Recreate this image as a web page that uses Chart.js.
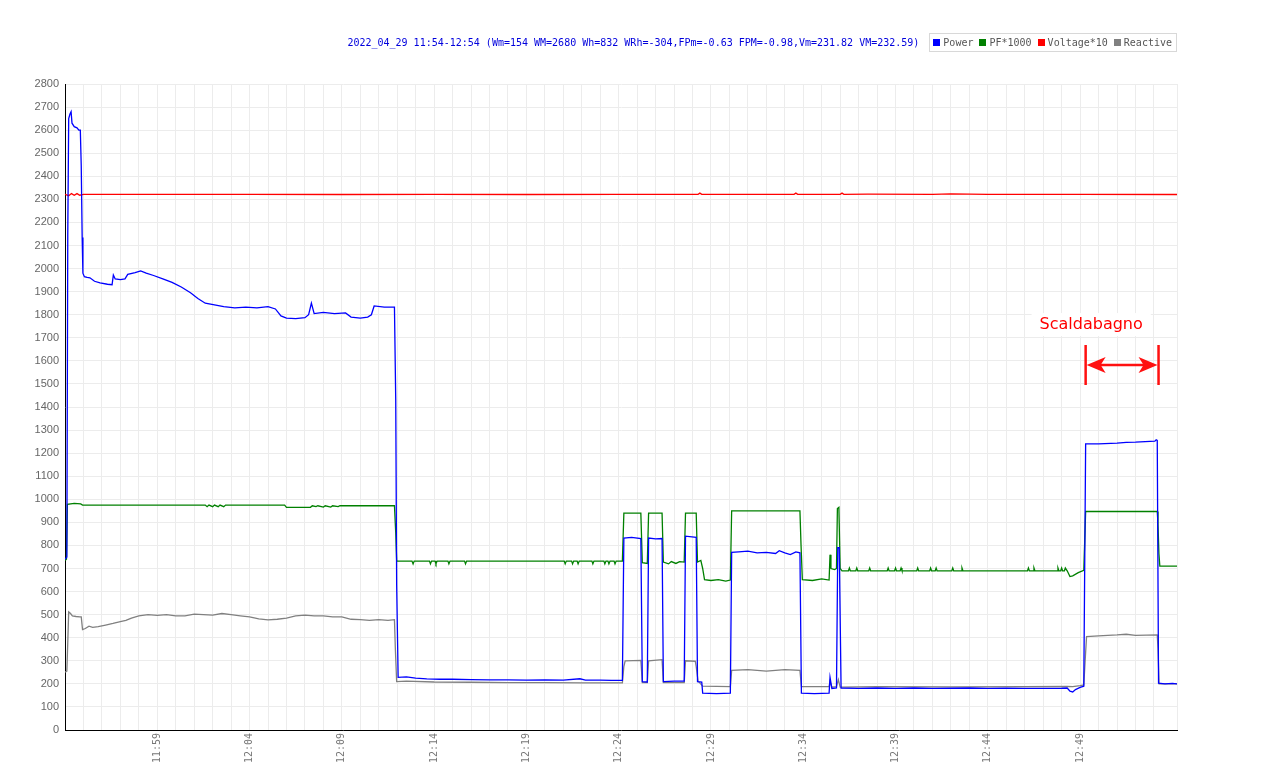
<!DOCTYPE html>
<html>
<head>
<meta charset="utf-8">
<script src="https://cdn.jsdelivr.net/npm/chart.js@4"></script>
<style>
  body { margin: 0; background: #fff; }
  #wrap { position: relative; width: 1280px; height: 768px; }
  #head {
    position: absolute; top: 33px; right: 103px; height: 19px;
    display: flex; align-items: center;
    font: 10px "DejaVu Sans Mono", monospace;
  }
  #head .title { color: #0000dd; margin-right: 10px; }
  #head .legend {
    display: flex; align-items: center; height: 17px; padding: 0 4px 0 3px;
    border: 1px solid #d8d8d8; color: #555;
  }
  #head .legend span { display: inline-flex; align-items: center; margin-right: 6px; }
  #head .legend span:last-child { margin-right: 0; }
  #head .legend i { display: inline-block; width: 7px; height: 7px; margin-right: 3px; }
</style>
</head>
<body>
<div id="wrap">
  <canvas id="chart" width="1280" height="768"></canvas>
  <div id="head">
    <span class="title">2022_04_29 11:54-12:54 (Wm=154 WM=2680 Wh=832 WRh=-304,FPm=-0.63 FPM=-0.98,Vm=231.82 VM=232.59)</span>
    <span class="legend" id="legend"></span>
  </div>
</div>
<script>
// ── data: [minutes after 11:54, value] ──────────────────────────────────
const START_H = 11, START_M = 54;
const X_MAX   = 60.25;

const POWER = [
  [0,740],[0.1,750],[0.15,2150],[0.2,2650],[0.27,2670],[0.33,2680],[0.38,2630],[0.5,2615],[0.65,2610],[0.75,2600],
  [0.83,2600],[0.88,2445],[0.93,2135],[0.97,1980],[1.05,1965],[1.2,1962],[1.35,1960],[1.6,1945],[1.9,1938],[2.3,1932],
  [2.55,1930],[2.62,1972],[2.72,1955],[3.0,1952],[3.25,1955],[3.4,1975],[3.8,1982],[4.1,1990],[4.4,1980],[4.8,1970],
  [5.3,1955],[5.8,1940],[6.3,1920],[6.8,1895],[7.2,1870],[7.6,1850],[8.1,1843],[8.6,1835],[9.2,1830],[9.8,1833],
  [10.4,1830],[11.0,1835],[11.4,1825],[11.7,1795],[12.0,1785],[12.5,1783],[13.0,1787],[13.2,1800],[13.35,1850],[13.5,1805],
  [14.0,1810],[14.6,1805],[15.2,1808],[15.5,1790],[16.0,1785],[16.4,1790],[16.6,1800],[16.75,1838],[17.3,1833],[17.85,1833],
  [17.92,1430],[17.97,630],[18.05,228],[18.5,230],[19.0,225],[19.6,222],[20.3,220],[21.0,220],[22.0,218],[23.0,217],
  [24.0,217],[25.0,216],[26.0,217],[27.0,216],[27.9,222],[28.2,216],[29.0,216],[29.6,215],[30.2,215],
  [30.28,832],[30.7,835],[31.2,830],[31.28,210],[31.55,208],[31.62,832],[32.0,828],[32.35,830],[32.42,210],[33.0,212],
  [33.55,212],[33.62,840],[34.2,835],[34.27,210],[34.5,208],[34.55,160],[35.3,158],[36.05,160],[36.12,770],[36.5,772],
  [37.0,775],[37.5,768],[38.0,770],[38.5,765],[38.7,777],[39.0,768],[39.3,760],[39.6,772],[39.82,768],[39.9,160],
  [40.6,158],[41.4,160],[41.45,228],[41.55,180],[41.8,182],[41.87,790],[41.95,790],[42.05,182],[43,180],[44,182],
  [45,180],[46,182],[47,180],[48,181],[49,182],[50,180],[51,181],[52,180],[53,180],[54,181],
  [54.3,182],[54.45,168],[54.6,165],[54.75,175],[55.0,185],[55.2,190],[55.3,1240],[56,1240],[57,1243],[57.5,1247],
  [58,1248],[59.05,1252],[59.12,1258],[59.18,1255],[59.25,203],[59.6,200],[60.0,202],[60.25,200]
];

const PF = [
  [0,735],[0.08,740],[0.13,978],[0.5,982],[0.85,980],[0.95,975],[7.6,975],[7.7,968],[7.8,975],[8.0,968],
  [8.1,975],[8.3,968],[8.4,975],[8.6,968],[8.7,975],[11.9,975],[12.0,965],[13.3,965],[13.4,972],[13.6,968],
  [13.7,972],[14.0,966],[14.1,972],[14.4,966],[14.5,972],[14.8,968],[14.9,972],[17.85,972],[17.92,855],[17.97,732],
  [18.8,732],[18.86,720],[18.92,732],[19.75,732],[19.8,720],[19.86,732],[20.05,732],[20.1,720],[20.16,732],[20.75,732],
  [20.8,720],[20.86,732],[21.65,732],[21.7,720],[21.76,732],[27.05,732],[27.1,720],[27.16,732],[27.45,732],[27.5,720],
  [27.56,732],[27.75,732],[27.8,720],[27.86,732],[28.55,732],[28.6,720],[28.66,732],[29.2,732],[29.25,720],[29.31,732],
  [29.42,732],[29.47,720],[29.53,732],[29.75,732],[29.8,720],[29.86,732],[30.2,732],[30.28,940],[31.2,940],[31.28,725],
  [31.55,722],[31.62,940],[32.35,940],[32.42,728],[32.7,720],[32.85,730],[33.1,722],[33.3,730],[33.55,728],[33.62,940],
  [34.2,940],[34.27,728],[34.45,735],[34.55,700],[34.65,652],[35.0,648],[35.4,652],[35.8,645],[36.05,650],[36.12,950],
  [39.82,950],[39.88,800],[39.95,652],[40.5,648],[41.0,655],[41.4,650],[41.45,760],[41.5,700],[41.7,695],[41.8,700],
  [41.85,960],[41.93,965],[42.0,700],[42.1,690],[42.45,690],[42.5,702],[42.55,690],[42.85,690],[42.9,702],[42.95,690],
  [43.55,690],[43.6,702],[43.65,690],[44.55,690],[44.6,702],[44.65,690],[44.95,690],[45.0,702],[45.05,690],[45.25,690],
  [45.3,702],[45.35,690],[46.15,690],[46.2,702],[46.25,690],[46.85,690],[46.9,702],[46.95,690],[47.15,690],[47.2,702],
  [47.25,690],[48.05,690],[48.1,702],[48.15,690],[48.55,690],[48.6,702],[48.65,690],[52.15,690],[52.2,702],[52.25,690],
  [52.45,690],[52.5,702],[52.55,690],[53.75,690],[53.8,702],[53.85,690],[53.95,690],[54.0,702],[54.05,690],[54.15,690],
  [54.2,702],[54.3,690],[54.45,665],[54.6,668],[54.9,682],[55.2,692],[55.25,820],[55.3,947],[59.18,947],[59.22,893],
  [59.27,765],[59.32,710],[60.25,710]
];

const VOLTAGE = [
  [0,2322],[0.2,2316],[0.35,2325],[0.5,2318],[0.65,2325],[0.8,2318],[1.0,2322],[10,2322],[15,2321],[20,2322],
  [25,2321],[30,2322],[34.3,2322],[34.4,2327],[34.5,2322],[39.5,2322],[39.6,2327],[39.7,2322],[42,2322],[42.1,2327],
  [42.2,2322],[43.5,2323],[47,2322],[48,2324],[50,2322],[55,2322],[60.25,2321]
];

const REACTIVE = [
  [0,250],[0.1,255],[0.15,380],[0.2,512],[0.3,505],[0.4,495],[0.6,492],[0.8,490],[0.88,490],[0.95,435],
  [1.1,440],[1.3,450],[1.5,445],[1.8,448],[2.2,455],[2.6,462],[3.0,470],[3.3,475],[3.6,485],[4.0,495],
  [4.5,500],[5.0,497],[5.5,500],[6.0,495],[6.5,495],[7.0,502],[7.5,500],[8.0,498],[8.5,505],[9.0,500],
  [9.5,495],[10.0,490],[10.5,482],[11.0,477],[11.5,480],[12.0,485],[12.5,495],[13.0,498],[13.5,495],[14.0,495],
  [14.5,490],[15.0,490],[15.5,480],[16.0,478],[16.5,475],[17.0,478],[17.5,475],[17.85,478],[17.9,350],[17.97,210],
  [18.5,212],[20,208],[22,207],[24,205],[26,205],[28,204],[30.2,204],[30.28,275],[30.35,300],[31.2,302],
  [31.28,205],[31.55,205],[31.62,300],[32.35,305],[32.42,205],[33.55,205],[33.62,300],[34.15,298],[34.2,275],[34.3,212],
  [34.55,190],[36.05,188],[36.12,258],[37,262],[38,255],[39,262],[39.82,258],[39.9,188],[41.4,188],[41.45,210],
  [41.55,186],[41.8,188],[41.9,218],[42.0,186],[44,188],[48,187],[52,188],[54.3,189],[54.6,188],[55.0,192],
  [55.2,195],[55.28,310],[55.35,405],[56,408],[57,412],[57.5,415],[58,410],[59.18,412],[59.22,355],[59.28,200],
  [60.25,200]
];

const SERIES = [
  { label: "Power",      color: "#0000ff", data: POWER },
  { label: "PF*1000",    color: "#008000", data: PF },
  { label: "Voltage*10", color: "#ff0000", data: VOLTAGE },
  { label: "Reactive",   color: "#808080", data: REACTIVE },
];

// annotation (in axis units)
const NOTE_TEXT = "Scaldabagno";
const NOTE_FROM = 55.3, NOTE_TO = 59.25, NOTE_Y = 1582, NOTE_BAR = 87, NOTE_TEXT_X = 55.6, NOTE_TEXT_Y = 1755;

// ── legend (html, same line as the title) ──────────────────────────────
document.getElementById("legend").innerHTML = SERIES
  .map(s => `<span><i style="background:${s.color}"></i>${s.label}</span>`).join("");

function fmtTime(v) {
  const m = START_H * 60 + START_M + v;
  return `${Math.floor(m / 60)}:${String(m % 60).padStart(2, "0")}`;
}

const notePlugin = {
  id: "note",
  afterDatasetsDraw(chart) {
    const { ctx, scales: { x, y } } = chart;
    const x1 = x.getPixelForValue(NOTE_FROM), x2 = x.getPixelForValue(NOTE_TO);
    const ym = y.getPixelForValue(NOTE_Y);
    const yt = y.getPixelForValue(NOTE_Y + NOTE_BAR), yb = y.getPixelForValue(NOTE_Y - NOTE_BAR);
    const tx = x.getPixelForValue(NOTE_TEXT_X), ty = y.getPixelForValue(NOTE_TEXT_Y);
    ctx.save();
    ctx.font = "16px 'Comic Sans MS', 'DejaVu Sans', sans-serif";
    const w = ctx.measureText(NOTE_TEXT).width;
    ctx.fillStyle = "#fff";
    ctx.fillRect(tx - w / 2 - 8, ty - 12, w + 16, 23);
    ctx.fillStyle = "#ff0000";
    ctx.textAlign = "center";
    ctx.textBaseline = "middle";
    ctx.fillText(NOTE_TEXT, tx, ty);

    ctx.strokeStyle = "#ff1010";
    ctx.lineWidth = 2.5;
    ctx.beginPath();
    ctx.moveTo(x1, yt); ctx.lineTo(x1, yb);
    ctx.moveTo(x2, yt); ctx.lineTo(x2, yb);
    ctx.moveTo(x1 + 10, ym); ctx.lineTo(x2 - 10, ym);
    ctx.stroke();
    ctx.fillStyle = "#ff1010";
    ctx.beginPath();
    ctx.moveTo(x1 + 1, ym); ctx.lineTo(x1 + 20, ym - 8); ctx.lineTo(x1 + 15, ym); ctx.lineTo(x1 + 20, ym + 8);
    ctx.closePath(); ctx.fill();
    ctx.beginPath();
    ctx.moveTo(x2 - 1, ym); ctx.lineTo(x2 - 20, ym - 8); ctx.lineTo(x2 - 15, ym); ctx.lineTo(x2 - 20, ym + 8);
    ctx.closePath(); ctx.fill();
    ctx.restore();
  },
};

new Chart(document.getElementById("chart"), {
  type: "line",
  data: {
    datasets: SERIES.map(s => ({
      label: s.label,
      data: s.data.map(([x, y]) => ({ x, y })),
      borderColor: s.color,
      backgroundColor: s.color,
      borderWidth: 1.3,
      pointRadius: 0,
      tension: 0,
      fill: false,
    })),
  },
  options: {
    responsive: false,
    animation: false,
    events: [],
    layout: { padding: { top: 84, right: 103, bottom: 0, left: 0 } },
    plugins: { legend: { display: false }, tooltip: { enabled: false } },
    scales: {
      x: {
        type: "linear", min: 0, max: X_MAX,
        grid: { color: "#ececec", drawTicks: false },
        border: { color: "#000", width: 1 },
        ticks: {
          stepSize: 1, autoSkip: false, minRotation: 90, maxRotation: 90, padding: 3,
          color: "#777", font: { family: "'DejaVu Sans Mono', monospace", size: 10 },
          callback: v => (Number.isInteger(v) && v % 5 === 0 && v > 0 && v < 60) ? fmtTime(v) : "",
        },
        afterFit: s => { s.height = 38; },
      },
      y: {
        min: 0, max: 2800,
        grid: { color: "#ececec", drawTicks: false },
        border: { color: "#000", width: 1 },
        ticks: {
          stepSize: 100, padding: 6, color: "#666",
          font: { family: "'Liberation Sans', Arial, sans-serif", size: 11 },
          callback: v => String(v),
        },
        afterFit: s => { s.width = 65; },
      },
    },
  },
  plugins: [notePlugin],
});
</script>
</body>
</html>
